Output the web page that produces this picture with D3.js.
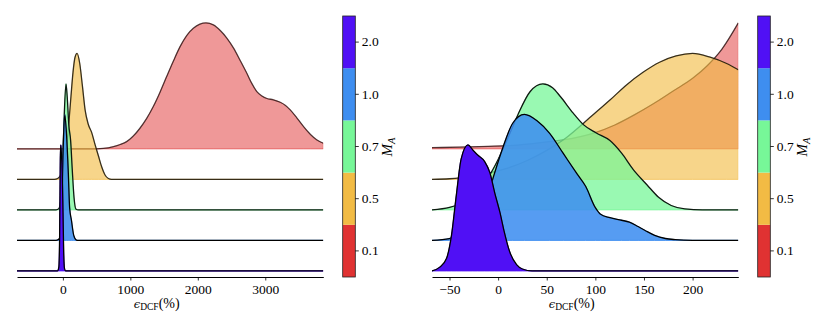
<!DOCTYPE html>
<html>
<head>
<meta charset="utf-8">
<script src="https://cdn.jsdelivr.net/npm/d3@7"></script>
<style>
    body { margin: 0; background: #fff; }
</style>
</head>
<body>
<svg id="chart" width="830" height="312"></svg>
<script>
// M_A categories, bottom to top of the colorbar
const categories = ['0.1', '0.5', '0.7', '1.0', '2.0'];

// tick labels of the two panels
const leftTicks = [0, 1000, 2000, 3000];
const rightTicks = [-50, 0, 50, 100, 150, 200];

// normalised density curves [eps_DCF, density]
// left panel (full range)
const leftRed = [[-680, 0], [400, 0], [600, 0.004], [750, 0.018], [850, 0.035], [945, 0.058], [1040, 0.1], [1142, 0.164],
    [1240, 0.24], [1340, 0.336], [1440, 0.45], [1538, 0.574], [1640, 0.7], [1735, 0.81], [1835, 0.9], [1933, 0.957],
    [2030, 0.99], [2121, 1.0], [2230, 0.985], [2333, 0.94], [2430, 0.88], [2530, 0.8], [2630, 0.7], [2727, 0.6],
    [2800, 0.52], [2875, 0.455], [2950, 0.42], [3024, 0.4], [3120, 0.39], [3222, 0.37], [3300, 0.345], [3370, 0.31],
    [3470, 0.245], [3568, 0.177], [3670, 0.115], [3766, 0.071], [3860, 0.045]];
const leftYellow = [[-680, 0], [-150, 0], [-100, 0.003], [-50, 0.02], [0, 0.076], [50, 0.23], [90, 0.46], [120, 0.66],
    [150, 0.85], [180, 0.97], [210, 1.0], [250, 0.92], [290, 0.74], [330, 0.55], [375, 0.44], [425, 0.375], [475, 0.28],
    [525, 0.19], [575, 0.1], [625, 0.035], [675, 0.007], [720, 0], [3860, 0]];
const leftGreen = [[-680, 0], [-100, 0], [-60, 0.01], [-30, 0.09], [0, 0.42], [20, 0.75], [46, 1.0], [64, 0.9],
    [88, 0.675], [115, 0.55], [139, 0.32], [165, 0.1], [192, 0.008], [230, 0], [3860, 0]];
const leftBlue = [[-680, 0], [-100, 0], [-50, 0.015], [-20, 0.2], [5, 0.74], [27, 1.0], [53, 0.85], [81, 0.53],
    [100, 0.26], [127, 0.16], [161, 0.04], [200, 0.003], [230, 0], [3860, 0]];
const leftPurple = [[-680, 0], [-80, 0], [-60, 0.03], [-48, 0.28], [-38, 0.89], [-31, 1.0], [-21, 0.92], [-9, 0.78],
    [2, 0.46], [12, 0.15], [24, 0.02], [40, 0], [3860, 0]];

// right panel (zoom on -68..247)
const rightRed = [[-68, 0.01], [-40, 0.014], [-10, 0.02], [20, 0.03], [50, 0.055], [80, 0.09], [100, 0.13], [120, 0.19],
    [140, 0.27], [160, 0.36], [180, 0.46], [200, 0.56], [215, 0.66], [230, 0.79], [247, 1.0]];
const rightYellow = [[-68, 0], [-50, 0.005], [-30, 0.02], [-10, 0.05], [10, 0.09], [30, 0.15], [50, 0.23], [70, 0.33],
    [87, 0.44], [100, 0.53], [115, 0.63], [132, 0.75], [149, 0.85], [166, 0.93], [183, 0.98], [200, 1.0], [218, 0.97],
    [235, 0.92], [247, 0.87]];
const rightGreen = [[-68, 0], [-50, 0.02], [-40, 0.045], [-30, 0.09], [-20, 0.16], [-10, 0.26], [0, 0.4], [10, 0.57],
    [20, 0.75], [33, 0.94], [46, 1.0], [56, 0.97], [64, 0.9], [77, 0.77], [88, 0.675], [101, 0.61], [115, 0.55],
    [127, 0.45], [139, 0.32], [153, 0.2], [165, 0.1], [178, 0.035], [192, 0.008], [210, 0], [247, 0]];
const rightBlue = [[-68, 0], [-50, 0.015], [-40, 0.04], [-30, 0.1], [-20, 0.2], [-10, 0.37], [-5, 0.5], [5, 0.74],
    [15, 0.93], [27, 1.0], [40, 0.95], [53, 0.85], [67, 0.69], [81, 0.53], [90, 0.43], [100, 0.26], [105, 0.21],
    [115, 0.18], [127, 0.16], [135, 0.145], [144, 0.11], [152, 0.075], [161, 0.04], [172, 0.015], [182, 0.006],
    [200, 0], [247, 0]];
const rightPurple = [[-68, 0], [-60, 0.03], [-53, 0.1], [-48, 0.28], [-43, 0.6], [-38, 0.89], [-31, 1.0], [-26, 0.96],
    [-21, 0.92], [-14, 0.87], [-8.5, 0.78], [-3.5, 0.62], [2, 0.46], [6, 0.32], [12, 0.15], [19, 0.05], [25, 0.015],
    [35, 0], [247, 0]];

// styles
const colorRange = ['#e03232', '#f2bb44', '#77f798', '#3e8ef0', '#5010f5']; // red, orange, green, blue, purple
const alphas = [0.5, 0.625, 0.75, 0.875, 1.0];
const overlap = 4.13; // peak height in row spacings
const serif = '"Liberation Serif", "Times New Roman", serif';

const panels = [
    { offset: 0, domain: [-680, 3860], ticks: leftTicks,
      series: [leftRed, leftYellow, leftGreen, leftBlue, leftPurple] },
    { offset: 415, domain: [-68, 247], ticks: rightTicks,
      series: [rightRed, rightYellow, rightGreen, rightBlue, rightPurple] }
];

const svg = d3.select('#chart');

/**
 * Draw one ridgeline panel with its colorbar
 */
let drawPanel = (panel, idx) => {
    const g = svg.append('g').attr('transform', `translate(${panel.offset},0)`);

    const x = d3.scaleLinear().domain(panel.domain).range([17, 323.3]);
    const y = d3.scaleLinear().domain([-0.2, 8.2]).range([277, 20.8]);

    const clipId = 'clip' + idx;
    g.append('clipPath').attr('id', clipId)
        .append('rect').attr('x', 17).attr('y', 0).attr('width', 306.3).attr('height', 277);

    const plot = g.append('g').attr('clip-path', `url(#${clipId})`);

    // red is the top row (4), purple the bottom row (0); draw top first
    panel.series.forEach((data, i) => {
        const row = 4 - i;
        const area = d3.area()
            .x(d => x(d[0]))
            .y0(y(row))
            .y1(d => y(row + d[1] * overlap))
            .curve(d3.curveMonotoneX);
        const line = d3.line()
            .x(d => x(d[0]))
            .y(d => y(row + d[1] * overlap))
            .curve(d3.curveMonotoneX);

        plot.append('path')
            .attr('d', area(data))
            .attr('fill', colorRange[i])
            .attr('fill-opacity', alphas[i])
            .attr('stroke', colorRange[i])
            .attr('stroke-opacity', alphas[i])
            .attr('stroke-width', 1);

        plot.append('path')
            .attr('d', line(data))
            .attr('fill', 'none')
            .attr('stroke', '#000')
            .attr('stroke-opacity', Math.min(1, alphas[i] + 0.15))
            .attr('stroke-width', 1.3);
    });

    // bottom axis
    const xAxis = g.append('g')
        .attr('transform', 'translate(0,277)')
        .call(d3.axisBottom(x).tickValues(panel.ticks).tickSize(3.5).tickSizeOuter(0).tickPadding(4).tickFormat(d3.format('d')));
    xAxis.select('.domain').attr('stroke-width', 1);
    xAxis.selectAll('.tick line').attr('stroke-width', 0.8);
    xAxis.selectAll('text').style('font-size', '13.5px').style('font-family', serif);

    // axis label: epsilon_DCF(%)
    const label = g.append('text')
        .attr('x', 156.7).attr('y', 307.5)
        .attr('text-anchor', 'middle')
        .style('font-family', serif)
        .style('font-size', '14px');
    label.append('tspan').style('font-family', '"DejaVu Serif", serif').style('font-style', 'italic').style('font-size', '11.5px').text('\u03f5');
    label.append('tspan').style('font-size', '9.5px').attr('dy', 2.5).text('DCF');
    label.append('tspan').attr('dy', -2.5).text('(%)');

    // colorbar
    const cb = d3.scaleBand().domain(categories).range([277, 16]);
    const cbg = g.append('g').attr('transform', 'translate(342.7,0)');
    cbg.selectAll('rect.seg')
        .data(categories)
        .join('rect')
        .attr('class', 'seg')
        .attr('x', 0)
        .attr('y', d => cb(d))
        .attr('width', 12.6)
        .attr('height', cb.bandwidth())
        .attr('fill', (d, i) => colorRange[i]);
    cbg.append('rect')
        .attr('x', 0).attr('y', 16).attr('width', 12.6).attr('height', 261)
        .attr('fill', 'none').attr('stroke', '#222').attr('stroke-width', 0.8);

    const cAxis = cbg.append('g')
        .attr('transform', 'translate(12.6,0)')
        .call(d3.axisRight(cb).tickSize(3.5).tickPadding(3));
    cAxis.select('.domain').remove();
    cAxis.selectAll('.tick line').attr('stroke-width', 0.8);
    cAxis.selectAll('text').style('font-size', '13.5px').style('font-family', serif);

    const mLabel = g.append('text')
        .attr('transform', 'translate(392,147) rotate(-90)')
        .attr('text-anchor', 'middle')
        .style('font-family', serif)
        .style('font-size', '15px');
    mLabel.append('tspan').style('font-style', 'italic').text('M');
    mLabel.append('tspan').style('font-style', 'italic').style('font-size', '10.5px').attr('dy', 3).text('A');
};

panels.forEach(drawPanel);
</script>
</body>
</html>
